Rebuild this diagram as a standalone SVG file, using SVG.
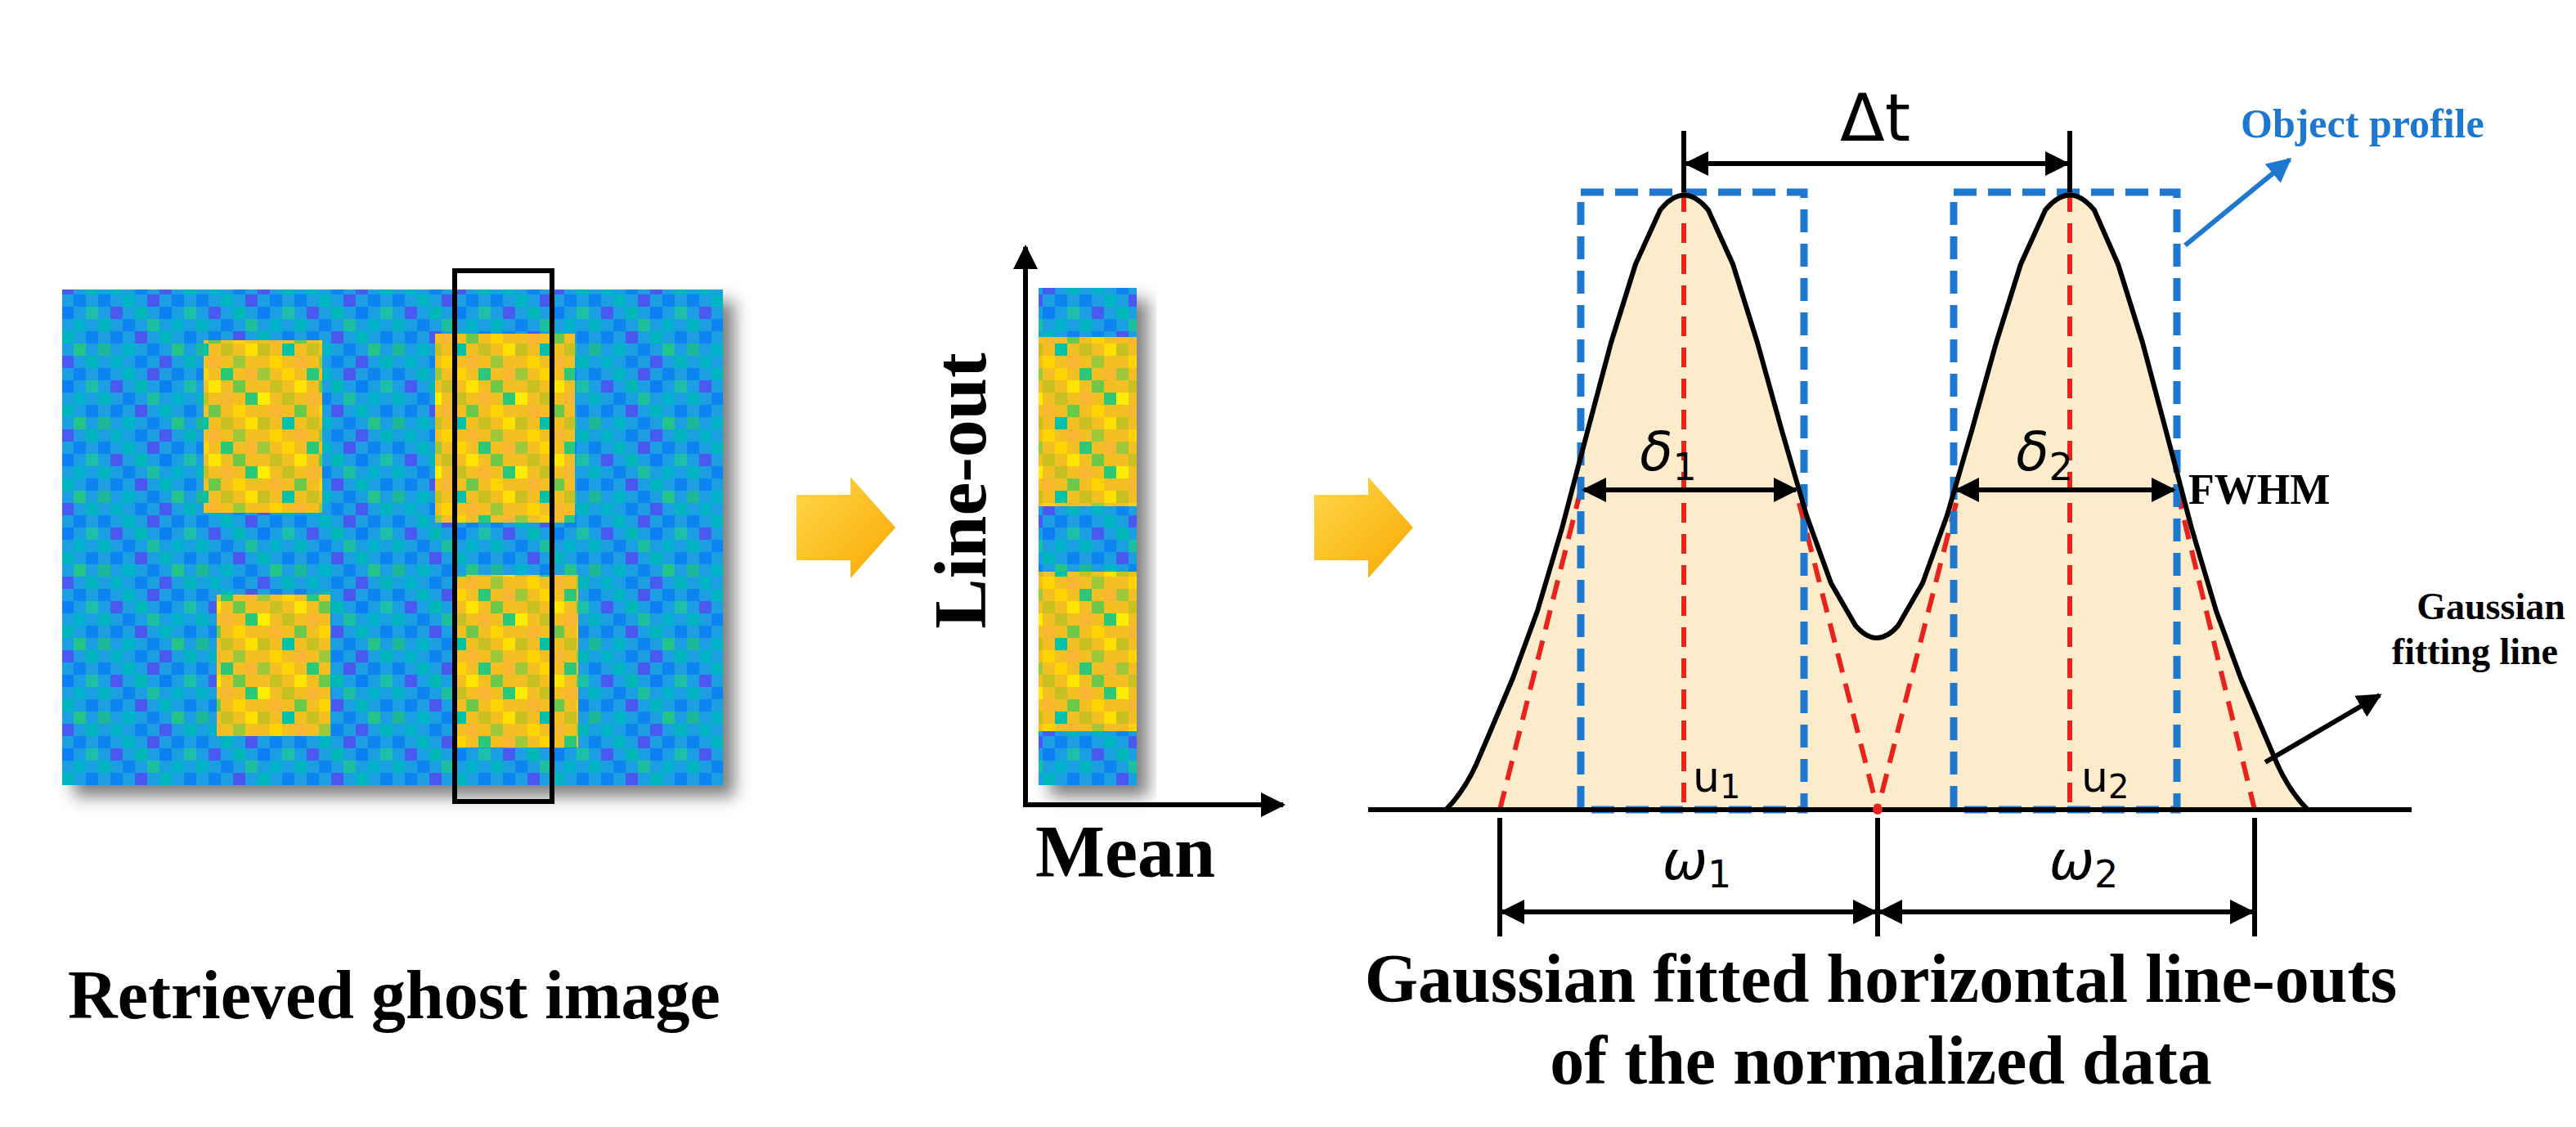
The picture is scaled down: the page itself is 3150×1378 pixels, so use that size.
<svg xmlns="http://www.w3.org/2000/svg" width="3150" height="1378" viewBox="0 0 3150 1378">
<style>
.cap{font-family:"Liberation Serif",serif;font-weight:bold;fill:#000}
.sym{font-family:"DejaVu Sans","Liberation Sans",sans-serif;fill:#000}
.ln{stroke:#000;stroke-width:6;fill:none}
.rd{stroke:#e8221c;stroke-width:6;stroke-dasharray:24 14;fill:none}
.bd{stroke:#1f78cf;stroke-width:9;stroke-dasharray:28 14;fill:none}
</style>
<defs>
<filter id="sh" x="-10%" y="-10%" width="130%" height="130%"><feDropShadow dx="14" dy="14" stdDeviation="10" flood-color="#000" flood-opacity="0.5"/></filter>
<marker id="ah" viewBox="0 0 10 10" refX="9" refY="5" markerWidth="5" markerHeight="5" orient="auto-start-reverse"><path d="M0,0 L10,5 L0,10 Z" fill="#000"/></marker>
<marker id="ab" viewBox="0 0 10 10" refX="9" refY="5" markerWidth="5" markerHeight="5" orient="auto"><path d="M0,0 L10,5 L0,10 Z" fill="#1f78cf"/></marker>
<linearGradient id="yg" x1="0" y1="0" x2="1" y2="1"><stop offset="0" stop-color="#ffd84a"/><stop offset="1" stop-color="#f7a800"/></linearGradient>
<pattern id="pb" width="120" height="90" patternUnits="userSpaceOnUse">
<rect width="120" height="90" fill="#1a9ee2"/>
<rect x="0" y="0" width="15" height="15" fill="#0a84f0"/><rect x="30" y="0" width="15" height="15" fill="#00b5c2"/><rect x="60" y="0" width="15" height="15" fill="#4858ef"/><rect x="90" y="0" width="15" height="15" fill="#0a84f0"/>
<rect x="15" y="15" width="15" height="15" fill="#4a5af0"/><rect x="45" y="15" width="15" height="15" fill="#00b8b8"/><rect x="75" y="15" width="15" height="15" fill="#0a7ff5"/><rect x="105" y="15" width="15" height="15" fill="#1cc0a8"/>
<rect x="0" y="30" width="15" height="15" fill="#00b4c4"/><rect x="30" y="30" width="15" height="15" fill="#0a84f0"/><rect x="60" y="30" width="15" height="15" fill="#1cbfa0"/><rect x="90" y="30" width="15" height="15" fill="#00b2cc"/>
<rect x="15" y="45" width="15" height="15" fill="#0a84f0"/><rect x="45" y="45" width="15" height="15" fill="#4a58ee"/><rect x="75" y="45" width="15" height="15" fill="#00b6be"/><rect x="105" y="45" width="15" height="15" fill="#0a84f0"/>
<rect x="0" y="60" width="15" height="15" fill="#1bb89a"/><rect x="30" y="60" width="15" height="15" fill="#00b4c8"/><rect x="60" y="60" width="15" height="15" fill="#0a84f0"/><rect x="90" y="60" width="15" height="15" fill="#22c48a"/>
<rect x="15" y="75" width="15" height="15" fill="#00b2c6"/><rect x="45" y="75" width="15" height="15" fill="#0a84f0"/><rect x="75" y="75" width="15" height="15" fill="#4a5af0"/><rect x="105" y="75" width="15" height="15" fill="#00b6bc"/>
</pattern>
<pattern id="py" width="105" height="90" patternUnits="userSpaceOnUse">
<rect width="105" height="90" fill="#f4bf22"/>
<rect x="0" y="0" width="15" height="15" fill="#9cc83a"/><rect x="30" y="0" width="15" height="15" fill="#ffd400"/><rect x="60" y="0" width="15" height="15" fill="#2cc87a"/><rect x="90" y="0" width="15" height="15" fill="#f8b632"/>
<rect x="15" y="15" width="15" height="15" fill="#c8c020"/><rect x="45" y="15" width="15" height="15" fill="#ffe600"/><rect x="75" y="15" width="15" height="15" fill="#6cc848"/>
<rect x="0" y="30" width="15" height="15" fill="#ffee00"/><rect x="30" y="30" width="15" height="15" fill="#c4c024"/><rect x="60" y="30" width="15" height="15" fill="#f8b632"/><rect x="90" y="30" width="15" height="15" fill="#2cc87a"/>
<rect x="15" y="45" width="15" height="15" fill="#f8b632"/><rect x="45" y="45" width="15" height="15" fill="#6cc848"/><rect x="75" y="45" width="15" height="15" fill="#ffd400"/>
<rect x="0" y="60" width="15" height="15" fill="#c8c020"/><rect x="30" y="60" width="15" height="15" fill="#00c2a8"/><rect x="60" y="60" width="15" height="15" fill="#c8c020"/><rect x="90" y="60" width="15" height="15" fill="#ffe000"/>
<rect x="15" y="75" width="15" height="15" fill="#ffd400"/><rect x="45" y="75" width="15" height="15" fill="#f8b632"/><rect x="75" y="75" width="15" height="15" fill="#9cc83a"/>
</pattern>
</defs>
<rect width="3150" height="1378" fill="#fff"/>

<g id="ghost-image">
<rect x="76" y="354" width="808" height="606" fill="url(#pb)" filter="url(#sh)"/>
<rect x="249" y="416" width="145" height="211" fill="url(#py)"/>
<rect x="532" y="408" width="171" height="231" fill="url(#py)"/>
<rect x="265" y="727" width="139" height="173" fill="url(#py)"/>
<rect x="555" y="703" width="152" height="211" fill="url(#py)"/>
<rect x="556" y="331" width="119" height="649" fill="none" stroke="#000" stroke-width="6"/>
<text class="cap" x="482" y="1245" font-size="84" text-anchor="middle">Retrieved ghost image</text>
</g>

<g id="arrow1"><path d="M974,605 L1040,605 L1040,583 L1095,645 L1040,707 L1040,685 L974,685 Z" fill="url(#yg)"/></g>
<g id="arrow2"><path d="M1607,605 L1673,605 L1673,583 L1728,645 L1673,707 L1673,685 L1607,685 Z" fill="url(#yg)"/></g>

<g id="lineout">
<rect x="1270" y="352" width="120" height="608" fill="url(#pb)" filter="url(#sh)"/>
<rect x="1270" y="412" width="120" height="207" fill="url(#py)"/>
<rect x="1270" y="699" width="120" height="195" fill="url(#py)"/>
<text class="cap" x="1205" y="600" font-size="92" text-anchor="middle" transform="rotate(-90 1205 600)">Line-out</text>
<text class="cap" x="1376" y="1072" font-size="90" text-anchor="middle">Mean</text>
</g>

<g id="plot">
<polygon fill="#fdeccb" points="1770,990 1790,960 1820,900 1850,829 1880,747 1910,646 1940,532 1970,419 2000,323 2030,257 2059,235 2089,257 2119,323 2149,419 2179,527 2209,630 2239,713 2269,765 2295,780 2321,765 2351,713 2381,630 2411,527 2441,419 2471,323 2501,257 2531,235 2561,257 2590,323 2620,419 2650,532 2680,646 2710,747 2740,829 2770,900 2800,960 2820,990"/>
<line x1="2059" y1="235" x2="2059" y2="990" class="rd"/>
<line x1="2531" y1="235" x2="2531" y2="990" class="rd"/>
<line x1="1933" y1="599" x2="1834" y2="990" class="rd"/>
<line x1="2200" y1="615" x2="2296" y2="990" class="rd"/>
<line x1="2392" y1="615" x2="2296" y2="990" class="rd"/>
<line x1="2662" y1="599" x2="2757" y2="990" class="rd"/>
<rect x="1933" y="235" width="273" height="755" class="bd"/>
<rect x="2389" y="235" width="273" height="755" class="bd"/>
<path class="ln" stroke-width="7" stroke-linejoin="round" d="M1768,990 Q1790,968 1805,935 L1820,900 1850,829 1880,747 1910,646 1940,532 1970,419 2000,323 2030,257 Q2059,220 2089,257 L2119,323 2149,419 2179,527 2209,630 2239,713 2269,765 Q2295,795 2321,765 L2351,713 2381,630 2411,527 2441,419 2471,323 2501,257 Q2531,220 2561,257 L2590,323 2620,419 2650,532 2680,646 2710,747 2740,829 2770,900 2785,935 Q2800,968 2822,990"/>
<line x1="1673" y1="990" x2="2949" y2="990" class="ln"/>
<circle cx="2296" cy="990" r="6" fill="#e8221c"/>
</g>

<g id="connectors">
<line x1="1254" y1="984" x2="1254" y2="302" class="ln" marker-end="url(#ah)"/>
<line x1="1251" y1="984" x2="1569" y2="984" class="ln" marker-end="url(#ah)"/>
<line x1="1937" y1="599" x2="2196" y2="599" class="ln" marker-start="url(#ah)" marker-end="url(#ah)"/>
<line x1="2393" y1="599" x2="2658" y2="599" class="ln" marker-start="url(#ah)" marker-end="url(#ah)"/>
<line x1="2059" y1="160" x2="2059" y2="235" class="ln"/>
<line x1="2531" y1="160" x2="2531" y2="235" class="ln"/>
<line x1="2062" y1="200" x2="2528" y2="200" class="ln" marker-start="url(#ah)" marker-end="url(#ah)"/>
<line x1="1834" y1="1000" x2="1834" y2="1145" class="ln"/>
<line x1="2296" y1="1000" x2="2296" y2="1145" class="ln"/>
<line x1="2757" y1="1000" x2="2757" y2="1145" class="ln"/>
<line x1="1837" y1="1115" x2="2293" y2="1115" class="ln" marker-start="url(#ah)" marker-end="url(#ah)"/>
<line x1="2299" y1="1115" x2="2754" y2="1115" class="ln" marker-start="url(#ah)" marker-end="url(#ah)"/>
<line x1="2672" y1="300" x2="2800" y2="195" stroke="#1f78cf" stroke-width="6" marker-end="url(#ab)"/>
<line x1="2770" y1="932" x2="2910" y2="850" class="ln" marker-end="url(#ah)"/>
</g>

<g id="labels">
<text class="sym" x="2293" y="172" font-size="80" text-anchor="middle">Δt</text>
<text class="cap" x="2740" y="168" font-size="50" style="fill:#1f78cf">Object profile</text>
<text class="sym" x="2040" y="575" font-size="66" font-style="italic" text-anchor="middle">δ<tspan font-size="46" dy="12" font-style="normal">1</tspan></text>
<text class="sym" x="2500" y="575" font-size="66" font-style="italic" text-anchor="middle">δ<tspan font-size="46" dy="12" font-style="normal">2</tspan></text>
<text class="cap" x="2676" y="616" font-size="52">FWHM</text>
<text class="cap" x="3046" y="757" font-size="46" text-anchor="middle">Gaussian</text>
<text class="cap" x="3128" y="812" font-size="46" text-anchor="end">fitting line</text>
<text class="sym" x="2070" y="968" font-size="52">u<tspan font-size="40" dy="8">1</tspan></text>
<text class="sym" x="2545" y="968" font-size="52">u<tspan font-size="40" dy="8">2</tspan></text>
<text class="sym" x="2075" y="1075" font-size="66" font-style="italic" text-anchor="middle">ω<tspan font-size="46" dy="10" font-style="normal">1</tspan></text>
<text class="sym" x="2548" y="1075" font-size="66" font-style="italic" text-anchor="middle">ω<tspan font-size="46" dy="10" font-style="normal">2</tspan></text>
<text class="cap" x="2300" y="1225" font-size="84" text-anchor="middle">Gaussian fitted horizontal line-outs</text>
<text class="cap" x="2300" y="1325" font-size="84" text-anchor="middle">of the normalized data</text>
</g>
</svg>
